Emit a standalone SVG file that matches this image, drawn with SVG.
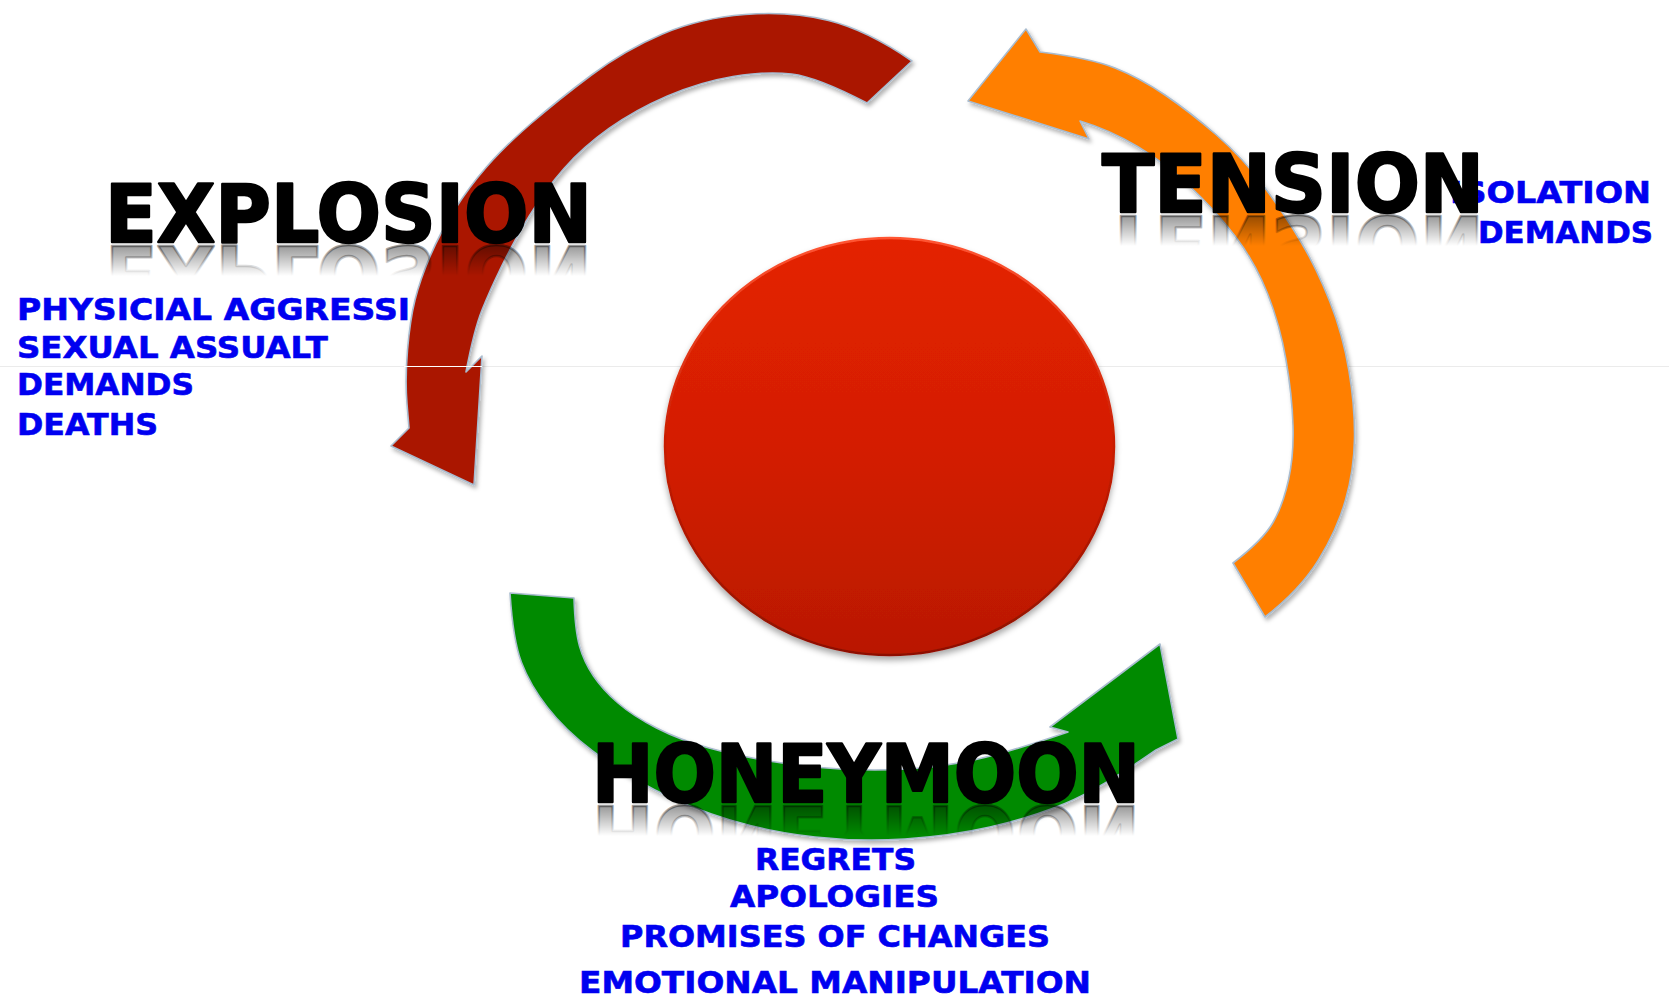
<svg xmlns="http://www.w3.org/2000/svg" width="1669" height="997" viewBox="0 0 1669 997">
<defs>
<style>
.t{font-family:"DejaVu Sans","Liberation Sans",sans-serif;font-weight:bold}
.blue{font-size:30px;fill:#0000f0;stroke:#0000f0;stroke-width:0.6}
.title{font-size:80px;fill:#000;stroke:#000;stroke-width:2.4;stroke-linejoin:round}
.arrow{stroke:#a9bccf;stroke-width:1.6;stroke-linejoin:round;filter:url(#sh)}
</style>
<filter id="sh" x="-10%" y="-10%" width="130%" height="130%">
<feDropShadow dx="2" dy="3" stdDeviation="2.2" flood-color="#000" flood-opacity="0.3"/>
</filter>
<filter id="shc" x="-10%" y="-10%" width="120%" height="125%">
<feDropShadow dx="0" dy="4" stdDeviation="3" flood-color="#000" flood-opacity="0.35"/>
</filter>
<linearGradient id="cfill" x1="0" y1="0" x2="0" y2="1">
<stop offset="0" stop-color="#e42200"/>
<stop offset="0.5" stop-color="#d41e00"/>
<stop offset="1" stop-color="#b91800"/>
</linearGradient>
<linearGradient id="cstroke" x1="0" y1="0" x2="0" y2="1">
<stop offset="0" stop-color="#ff5533"/>
<stop offset="0.5" stop-color="#c81c00"/>
<stop offset="1" stop-color="#8e1000"/>
</linearGradient>
<linearGradient id="rE" gradientUnits="userSpaceOnUse" x1="0" y1="242" x2="0" y2="212">
<stop offset="0" stop-color="#000" stop-opacity="0.4"/>
<stop offset="1" stop-color="#000" stop-opacity="0"/>
</linearGradient>
<linearGradient id="rT" gradientUnits="userSpaceOnUse" x1="0" y1="212" x2="0" y2="182">
<stop offset="0" stop-color="#000" stop-opacity="0.4"/>
<stop offset="1" stop-color="#000" stop-opacity="0"/>
</linearGradient>
<linearGradient id="rH" gradientUnits="userSpaceOnUse" x1="0" y1="802" x2="0" y2="772">
<stop offset="0" stop-color="#000" stop-opacity="0.4"/>
<stop offset="1" stop-color="#000" stop-opacity="0"/>
</linearGradient>
</defs>
<rect width="1669" height="997" fill="#fff"/>
<line x1="0" y1="366.5" x2="1669" y2="366.5" stroke="#ebebeb" stroke-width="1"/>

<g id="explosion-details" class="t blue">
<text x="17" y="320" textLength="393" lengthAdjust="spacingAndGlyphs">PHYSICIAL AGGRESSI</text>
<text x="17" y="358" textLength="311" lengthAdjust="spacingAndGlyphs">SEXUAL ASSUALT</text>
<text x="17" y="395" textLength="177" lengthAdjust="spacingAndGlyphs">DEMANDS</text>
<text x="17" y="435" textLength="141" lengthAdjust="spacingAndGlyphs">DEATHS</text>
</g>

<g id="tension-details" class="t blue">
<text x="1450" y="203" textLength="201" lengthAdjust="spacingAndGlyphs">ISOLATION</text>
<text x="1478" y="243" textLength="175" lengthAdjust="spacingAndGlyphs">DEMANDS</text>
</g>

<g id="honeymoon-details" class="t blue">
<text x="755" y="870" textLength="161" lengthAdjust="spacingAndGlyphs">REGRETS</text>
<text x="730" y="907" textLength="209" lengthAdjust="spacingAndGlyphs">APOLOGIES</text>
<text x="620" y="947" textLength="430" lengthAdjust="spacingAndGlyphs">PROMISES OF CHANGES</text>
<text x="579" y="993" textLength="512" lengthAdjust="spacingAndGlyphs">EMOTIONAL MANIPULATION</text>
</g>

<g id="connectors">
<path id="arrow-explosion" class="arrow" fill="#aa1600" d="M912,61 Q867,30 828.5,20.5 Q790,11 745,14.5 Q700,18 662.5,34 Q625,50 591.5,75 Q558,100 531,123.5 Q504,147 486.5,167 Q469,187 454.5,210 Q440,233 430,256.5 Q420,280 415,300 Q410,320 407.5,350 Q405,380 407,404 L409,428 L391,446 L474,485 L482,356 L466,372 Q474,330 482,310 Q490,290 501.5,266.5 Q513,243 529,216.5 Q545,190 564,168.5 Q583,147 609,128.5 Q635,110 667.5,96 Q700,82 733,76.5 Q766,71 791.5,74 Q817,77 867,103 Z"/>
<path id="arrow-tension" class="arrow" fill="#ff7f00" d="M968,101 L1026,29 L1040,52 Q1090,58 1115,68 Q1140,78 1165,95 Q1190,112 1216.5,135 Q1243,158 1264,186.5 Q1285,215 1301,242 Q1317,269 1330,302 Q1343,335 1349,371 Q1355,407 1354.5,438.5 Q1354,470 1345.5,500 Q1337,530 1318.5,560 Q1300,590 1265,617 L1233,563 Q1263,540 1273,522.5 Q1283,505 1288.5,480 Q1294,455 1293,425 Q1292,395 1286,360 Q1280,325 1267.5,293.5 Q1255,262 1235,236 Q1215,210 1190,186.5 Q1165,163 1137.5,146.5 Q1110,130 1080,121 L1089,139 Z"/>
<path id="arrow-honeymoon" class="arrow" fill="#008a00" d="M510,593 Q513,640 521.5,662.5 Q530,685 547.5,707.5 Q565,730 592.5,751 Q620,772 655,790 Q690,808 730,820 Q770,832 815,837 Q860,842 905,839 Q950,836 990,827 Q1030,818 1065,803.5 Q1100,789 1156,750 L1178,739 L1160,644 L1050,727 L1068,732 Q1010,752 976,759.5 Q942,767 908.5,769 Q875,771 840.5,769 Q806,767 772,761.5 Q738,756 709,748 Q680,740 656.5,728 Q633,716 618,703 Q603,690 593.5,676 Q584,662 579.5,646 Q575,630 574,598 Z"/>
</g>
<line x1="404" y1="366.5" x2="482" y2="366.5" stroke="#ffffff" stroke-width="1.2"/>

<g id="node-center">
<ellipse cx="889.5" cy="446.5" rx="224.5" ry="208.5" fill="url(#cfill)" stroke="url(#cstroke)" stroke-width="2.5" filter="url(#shc)"/>
</g>

<g id="node-explosion" class="t title">
<text x="105" y="242" textLength="487" lengthAdjust="spacingAndGlyphs">EXPLOSION</text>
<text x="105" y="242" textLength="487" lengthAdjust="spacingAndGlyphs" transform="matrix(1 0 0 -1 0 488)" fill="url(#rE)" stroke="url(#rE)">EXPLOSION</text>
</g>

<g id="node-tension" class="t title">
<text x="1102" y="212" textLength="382" lengthAdjust="spacingAndGlyphs">TENSION</text>
<text x="1102" y="212" textLength="382" lengthAdjust="spacingAndGlyphs" transform="matrix(1 0 0 -1 0 428)" fill="url(#rT)" stroke="url(#rT)">TENSION</text>
</g>

<g id="node-honeymoon" class="t title">
<text x="592" y="802" textLength="548" lengthAdjust="spacingAndGlyphs">HONEYMOON</text>
<text x="592" y="802" textLength="548" lengthAdjust="spacingAndGlyphs" transform="matrix(1 0 0 -1 0 1608)" fill="url(#rH)" stroke="url(#rH)">HONEYMOON</text>
</g>
</svg>
